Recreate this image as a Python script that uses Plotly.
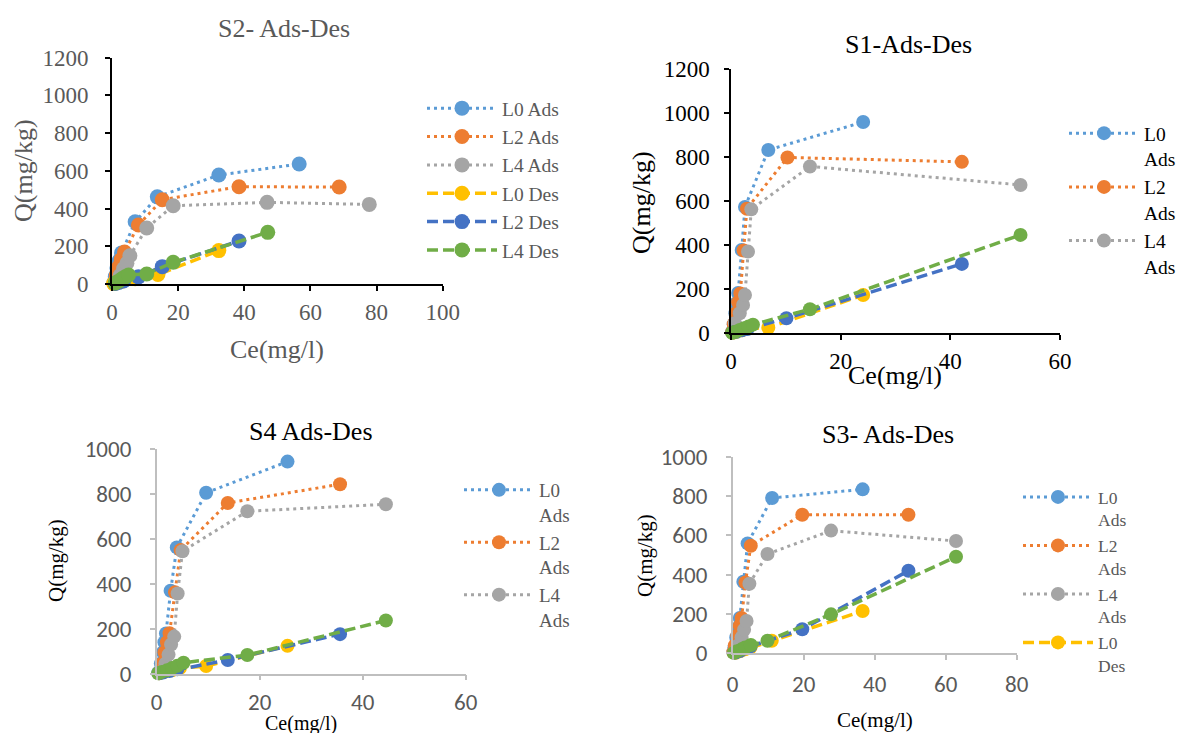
import plotly.graph_objects as go

W, H = 1180, 733

# ---------------- S2 (top-left) ----------------
S2_L0_ADS_CE = [0.6, 1.0, 1.5, 2.2, 2.9, 7.0, 13.7, 32.3, 56.6]
S2_L0_ADS_Q = [8, 40, 85, 125, 165, 330, 462, 578, 636]
S2_L2_ADS_CE = [0.8, 1.3, 2.0, 2.8, 3.8, 8.0, 15.2, 38.4, 68.7]
S2_L2_ADS_Q = [8, 45, 90, 130, 170, 313, 447, 516, 514]
S2_L4_ADS_CE = [1.5, 2.5, 3.5, 4.5, 5.4, 10.5, 18.5, 46.9, 77.8]
S2_L4_ADS_Q = [12, 45, 80, 110, 150, 297, 415, 433, 422]
S2_L0_DES_CE = [0.5, 1.5, 3.0, 7.0, 13.9, 32.3]
S2_L0_DES_Q = [2, 8, 15, 28, 50, 177]
S2_L2_DES_CE = [1.0, 2.0, 3.5, 8.0, 15.2, 38.4]
S2_L2_DES_Q = [3, 8, 16, 38, 92, 228]
S2_L4_DES_CE = [1.0, 2.0, 3.0, 4.0, 5.0, 10.5, 18.5, 47.1]
S2_L4_DES_Q = [5, 15, 28, 38, 48, 53, 115, 274]

# ---------------- S1 (top-right) ----------------
S1_L0_ADS_CE = [0.2, 0.5, 0.8, 1.0, 1.3, 1.95, 2.55, 6.8, 24.1]
S1_L0_ADS_Q = [5, 40, 90, 135, 182, 377, 573, 832, 959]
S1_L2_ADS_CE = [0.2, 0.5, 0.9, 1.3, 1.7, 2.3, 2.9, 10.3, 42.1]
S1_L2_ADS_Q = [5, 40, 90, 140, 180, 375, 565, 798, 778]
S1_L4_ADS_CE = [0.7, 1.6, 2.2, 2.55, 3.1, 3.7, 14.4, 52.8]
S1_L4_ADS_Q = [44, 90, 127, 173, 370, 562, 757, 673]
S1_L0_DES_CE = [0.3, 1.0, 2.0, 3.0, 6.8, 24.1]
S1_L0_DES_Q = [1, 5, 12, 20, 24, 173]
S1_L2_DES_CE = [0.3, 1.0, 2.0, 3.0, 10.1, 42.1]
S1_L2_DES_Q = [2, 6, 12, 18, 67, 314]
S1_L4_DES_CE = [0.2, 0.8, 1.6, 2.4, 3.2, 4.0, 14.4, 52.8]
S1_L4_DES_Q = [1, 6, 14, 22, 30, 38, 108, 446]

# ---------------- S4 (bottom-left) ----------------
S4_L0_ADS_CE = [0.3, 0.8, 1.2, 1.5, 1.8, 2.7, 3.9, 9.6, 25.4]
S4_L0_ADS_Q = [5, 45, 95, 140, 179, 369, 562, 805, 944]
S4_L2_ADS_CE = [0.5, 1.0, 1.5, 2.0, 2.5, 3.55, 4.66, 13.8, 35.6]
S4_L2_ADS_Q = [5, 45, 95, 140, 180, 362, 550, 760, 843]
S4_L4_ADS_CE = [1.0, 1.7, 2.3, 2.8, 3.4, 4.07, 5.0, 17.6, 44.5]
S4_L4_ADS_Q = [10, 45, 85, 130, 165, 357, 545, 723, 754]
S4_L0_DES_CE = [0.5, 1.5, 3.0, 4.5, 9.6, 25.4]
S4_L0_DES_Q = [2, 8, 15, 25, 34, 124]
S4_L2_DES_CE = [0.5, 1.2, 2.5, 4.0, 13.8, 35.6]
S4_L2_DES_Q = [2, 5, 12, 20, 61, 176]
S4_L4_DES_CE = [0.3, 1.0, 2.0, 3.0, 4.0, 5.2, 17.6, 44.5]
S4_L4_DES_Q = [2, 8, 15, 25, 35, 49, 83, 237]

# ---------------- S3 (bottom-right) ----------------
S3_L0_ADS_CE = [0.2, 0.5, 1.0, 1.5, 2.0, 3.0, 4.2, 11.1, 36.6]
S3_L0_ADS_Q = [5, 30, 80, 130, 180, 364, 559, 790, 834]
S3_L2_ADS_CE = [0.2, 0.6, 1.3, 2.0, 2.5, 3.6, 5.1, 19.6, 49.5]
S3_L2_ADS_Q = [5, 40, 90, 140, 180, 360, 547, 705, 705]
S3_L4_ADS_CE = [0.8, 1.5, 2.5, 3.2, 3.9, 4.7, 9.8, 27.7, 62.9]
S3_L4_ADS_Q = [8, 40, 80, 120, 164, 354, 505, 624, 571]
S3_L0_DES_CE = [0.8, 2.0, 3.5, 5.0, 11.0, 36.6]
S3_L0_DES_Q = [3, 10, 20, 30, 64, 215]
S3_L2_DES_CE = [0.8, 2.0, 3.5, 5.0, 19.6, 49.5]
S3_L2_DES_Q = [4, 12, 25, 35, 122, 420]
S3_L4_DES_CE = [0.3, 1.2, 2.5, 3.5, 5.1, 9.8, 27.7, 62.9]
S3_L4_DES_Q = [2, 10, 20, 30, 42, 64, 198, 491]

SERIES_NAMES = ["L0 Ads", "L2 Ads", "L4 Ads", "L0 Des", "L2 Des", "L4 Des"]
SERIES_COLORS = ["#5B9BD5", "#ED7D31", "#A5A5A5", "#FFC000", "#4472C4", "#70AD47"]
SERIES_DASH = ["3px,4px", "3px,4px", "3px,4px", "11px,5px", "11px,5px", "11px,5px"]
SERIES_WIDTH = [3, 3, 3, 3.5, 3.5, 3.5]

SERIF = "Liberation Serif, Times New Roman, serif"
SANS = "Carlito, Lato, sans-serif"
GRAY_TXT = "#595959"

fig = go.Figure()

panels = [
    ("", "legend", [
        (S2_L0_ADS_CE, S2_L0_ADS_Q), (S2_L2_ADS_CE, S2_L2_ADS_Q), (S2_L4_ADS_CE, S2_L4_ADS_Q),
        (S2_L0_DES_CE, S2_L0_DES_Q), (S2_L2_DES_CE, S2_L2_DES_Q), (S2_L4_DES_CE, S2_L4_DES_Q)], 15, 6, False),
    ("2", "legend2", [
        (S1_L0_ADS_CE, S1_L0_ADS_Q), (S1_L2_ADS_CE, S1_L2_ADS_Q), (S1_L4_ADS_CE, S1_L4_ADS_Q),
        (S1_L0_DES_CE, S1_L0_DES_Q), (S1_L2_DES_CE, S1_L2_DES_Q), (S1_L4_DES_CE, S1_L4_DES_Q)], 14, 3, True),
    ("3", "legend3", [
        (S4_L0_ADS_CE, S4_L0_ADS_Q), (S4_L2_ADS_CE, S4_L2_ADS_Q), (S4_L4_ADS_CE, S4_L4_ADS_Q),
        (S4_L0_DES_CE, S4_L0_DES_Q), (S4_L2_DES_CE, S4_L2_DES_Q), (S4_L4_DES_CE, S4_L4_DES_Q)], 14, 3, True),
    ("4", "legend4", [
        (S3_L0_ADS_CE, S3_L0_ADS_Q), (S3_L2_ADS_CE, S3_L2_ADS_Q), (S3_L4_ADS_CE, S3_L4_ADS_Q),
        (S3_L0_DES_CE, S3_L0_DES_Q), (S3_L2_DES_CE, S3_L2_DES_Q), (S3_L4_DES_CE, S3_L4_DES_Q)], 14, 4, True),
]

for suf, leg, data, msize, nleg, wrap in panels:
    for i, (xs, ys) in enumerate(data):
        name = SERIES_NAMES[i].replace(" ", "<br>") if wrap else SERIES_NAMES[i]
        fig.add_trace(go.Scatter(
            x=xs, y=ys, mode="lines+markers", name=name,
            xaxis="x" + suf, yaxis="y" + suf, legend=leg,
            showlegend=i < nleg, cliponaxis=False,
            line=dict(color=SERIES_COLORS[i], dash=SERIES_DASH[i], width=SERIES_WIDTH[i]),
            marker=dict(color=SERIES_COLORS[i], size=msize),
        ))


def px2fx(px):
    return px / W


def px2fy(py):
    return 1 - py / H


def axis(dom, rng, dtick, color, width, tickcolor, font, standoff, anchor):
    return dict(domain=dom, range=rng, dtick=dtick, showgrid=False, zeroline=False,
                showline=True, linecolor=color, linewidth=width, ticks="outside",
                ticklen=5, tickwidth=width, tickcolor=color, anchor=anchor,
                tickfont=dict(family=font[0], size=font[1], color=tickcolor),
                ticklabelstandoff=standoff, fixedrange=True, automargin=False)


layout = dict(
    width=W, height=H, margin=dict(l=0, r=0, t=0, b=0, autoexpand=False),
    paper_bgcolor="white", plot_bgcolor="rgba(0,0,0,0)",
    xaxis=axis([px2fx(112), px2fx(442.7)], [0, 100], 20, "black", 2, GRAY_TXT, (SERIF, 23), 1, "y"),
    yaxis=axis([px2fy(284), px2fy(57.7)], [0, 1200], 200, "black", 2, GRAY_TXT, (SERIF, 23), 12, "x"),
    xaxis2=axis([px2fx(731), px2fx(1060)], [0, 60], 20, "black", 1.5, "black", (SERIF, 23), 2, "y2"),
    yaxis2=axis([px2fy(333), px2fy(69)], [0, 1200], 200, "black", 1.5, "black", (SERIF, 23), 10, "x2"),
    xaxis3=axis([px2fx(156.7), px2fx(465.7)], [0, 60], 20, "#BFBFBF", 1.5, GRAY_TXT, (SANS, 23), 2, "y3"),
    yaxis3=axis([px2fy(673.7), px2fy(449)], [0, 1000], 200, "#BFBFBF", 1.5, GRAY_TXT, (SANS, 23), 14, "x3"),
    xaxis4=axis([px2fx(732.7), px2fx(1016.7)], [0, 80], 20, "#BFBFBF", 1.5, GRAY_TXT, (SANS, 23), 4, "y4"),
    yaxis4=axis([px2fy(653.3), px2fy(456.7)], [0, 1000], 200, "#BFBFBF", 1.5, GRAY_TXT, (SANS, 23), 14, "x4"),
)


def legend(xpx, ypx, color, size):
    return dict(x=px2fx(xpx), y=px2fy(ypx), xanchor="left", yanchor="top",
                bgcolor="rgba(0,0,0,0)", borderwidth=0, itemwidth=70, valign="top",
                font=dict(family=SERIF, size=size, color=color), tracegroupgap=0,
                itemclick=False, itemdoubleclick=False)


layout["legend"] = legend(422, 89, GRAY_TXT, 19.5)
layout["legend2"] = legend(1064, 114, "black", 19.5)
layout["legend3"] = legend(459, 471, GRAY_TXT, 19)
layout["legend4"] = legend(1018, 479, GRAY_TXT, 17.5)

ann = []


def text(x, y, s, size, color, angle=0):
    ann.append(dict(x=px2fx(x), y=px2fy(y), xref="paper", yref="paper", text=s,
                    showarrow=False, textangle=angle, xanchor="center", yanchor="middle",
                    font=dict(family=SERIF, size=size, color=color)))


# S2
text(284, 28, "S2- Ads-Des", 26, GRAY_TXT)
text(23, 171, "Q(mg/kg)", 26, GRAY_TXT, -90)
text(277, 350, "Ce(mg/l)", 26, GRAY_TXT)
# S1
text(908, 45, "S1-Ads-Des", 26, "black")
text(641, 203, "Q(mg/kg)", 26, "black", -90)
text(895, 375, "Ce(mg/l)", 26, "black")
# S4
text(311, 432, "S4 Ads-Des", 26, "black")
text(56, 561, "Q(mg/kg)", 21, "black", -90)
text(301, 723, "Ce(mg/l)", 20, "black")
# S3
text(888, 434, "S3- Ads-Des", 26, "black")
text(645, 556, "Q(mg/kg)", 21, "black", -90)
text(875, 720, "Ce(mg/l)", 21, "black")

layout["annotations"] = ann
fig.update_layout(**layout)
fig.write_html(
    "out.html",
    config={"displayModeBar": False},
    post_script="document.body.style.margin='0';document.body.style.overflow='hidden';",
)
